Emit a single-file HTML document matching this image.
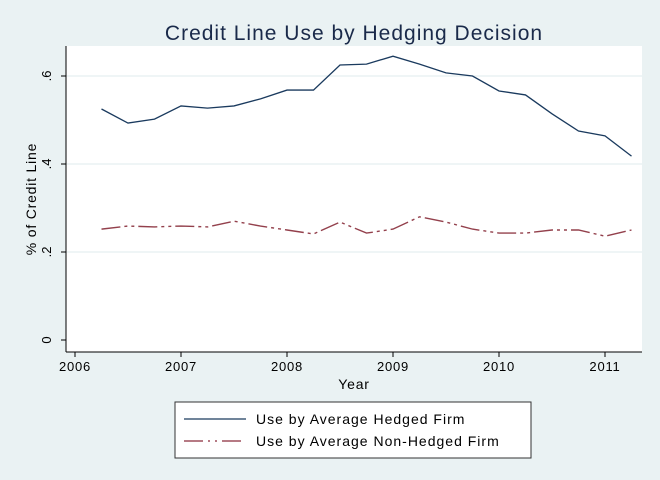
<!DOCTYPE html>
<html><head><meta charset="utf-8"><style>
body{margin:0;background:#eaf2f3;}
svg{display:block;font-family:"Liberation Sans",sans-serif;}
</style></head><body>
<svg id="c" width="660" height="480">
<rect x="0" y="0" width="660" height="480" fill="#eaf2f3"/>
<text x="354" y="40" text-anchor="middle" font-size="21" letter-spacing="1" fill="#1a2a4a">Credit Line Use by Hedging Decision</text>
<rect x="66" y="46" width="576" height="306" fill="#fff"/>
<g id="grid"></g>
<g id="axes"></g>
<g id="series"></g>
<text x="354" y="389" text-anchor="middle" font-size="14" letter-spacing="0.8" fill="#000">Year</text>
<text transform="translate(36,199) rotate(-90)" text-anchor="middle" font-size="14" letter-spacing="0.8" fill="#000">% of Credit Line</text>
<g>
<rect x="175" y="402" width="356" height="56" fill="#fff" stroke="#333" stroke-width="1"/>
<line x1="184" y1="419" x2="246" y2="419" stroke="#1a3a5e" stroke-width="1.3"/>
<text x="256" y="424" font-size="14" letter-spacing="1">Use by Average Hedged Firm</text>
<line x1="184" y1="441" x2="246" y2="441" stroke="#8b2a3a" stroke-width="1.3" stroke-dasharray="19,5,2,5,2,5"/>
<text x="256" y="446" font-size="14" letter-spacing="1">Use by Average Non-Hedged Firm</text>
</g>
</svg>
<script>
const years=[2006.25,2006.5,2006.75,2007,2007.25,2007.5,2007.75,2008,2008.25,2008.5,2008.75,2009,2009.25,2009.5,2009.75,2010,2010.25,2010.5,2010.75,2011,2011.25];
const hedged=[.525,.493,.502,.532,.527,.532,.548,.568,.568,.625,.627,.645,.627,.607,.600,.566,.557,.514,.475,.464,.418];
const nonHedged=[.252,.259,.257,.259,.257,.270,.259,.250,.241,.268,.243,.252,.280,.268,.252,.243,.243,.250,.250,.236,.250];
const xTicks=[2006,2007,2008,2009,2010,2011];
const yTicks=[0,.2,.4,.6];
const yLabels=["0",".2",".4",".6"];
const xs=v=>75+(v-2006)*106;
const ys=v=>340-v*440;
const NS="http://www.w3.org/2000/svg";
function mk(t,a,p){const e=document.createElementNS(NS,t);for(const k in a)e.setAttribute(k,a[k]);p.appendChild(e);return e;}
const grid=document.getElementById('grid'),axes=document.getElementById('axes'),ser=document.getElementById('series');
yTicks.forEach((v,i)=>{
 if(v>0){const g=mk('line',{x1:66,x2:642,y1:ys(v),y2:ys(v),stroke:'#eaf2f3','stroke-width':1.5},grid);
 
 }
 const t=mk('line',{x1:61,x2:66,y1:ys(v),y2:ys(v),stroke:'#000'},axes);
 
 
 const l=mk('text',{transform:`translate(51,${ys(v)}) rotate(-90)`,'text-anchor':'middle','font-size':13},axes);
 l.textContent=yLabels[i];
 
 
});
xTicks.forEach(v=>{
 const t=mk('line',{x1:xs(v),x2:xs(v),y1:352,y2:357,stroke:'#000'},axes);
 
 
 const l=mk('text',{x:xs(v),y:371,'text-anchor':'middle','font-size':13,'letter-spacing':0.8},axes);
 l.textContent=v;
 
 
});
const ya=mk('line',{x1:66,x2:66,y1:46,y2:352,stroke:'#000'},axes);


const xa=mk('line',{x1:66,x2:642,y1:352,y2:352,stroke:'#000'},axes);


const p1=mk('polyline',{points:years.map((y,i)=>xs(y)+','+ys(hedged[i])).join(' '),fill:'none',stroke:'#1a3a5e','stroke-width':1.3},ser);


const p2=mk('polyline',{points:years.map((y,i)=>xs(y)+','+ys(nonHedged[i])).join(' '),fill:'none',stroke:'#93404c','stroke-width':1.4,'stroke-dasharray':'19,4,3,4,3,4'},ser);


</script>
</body></html>
